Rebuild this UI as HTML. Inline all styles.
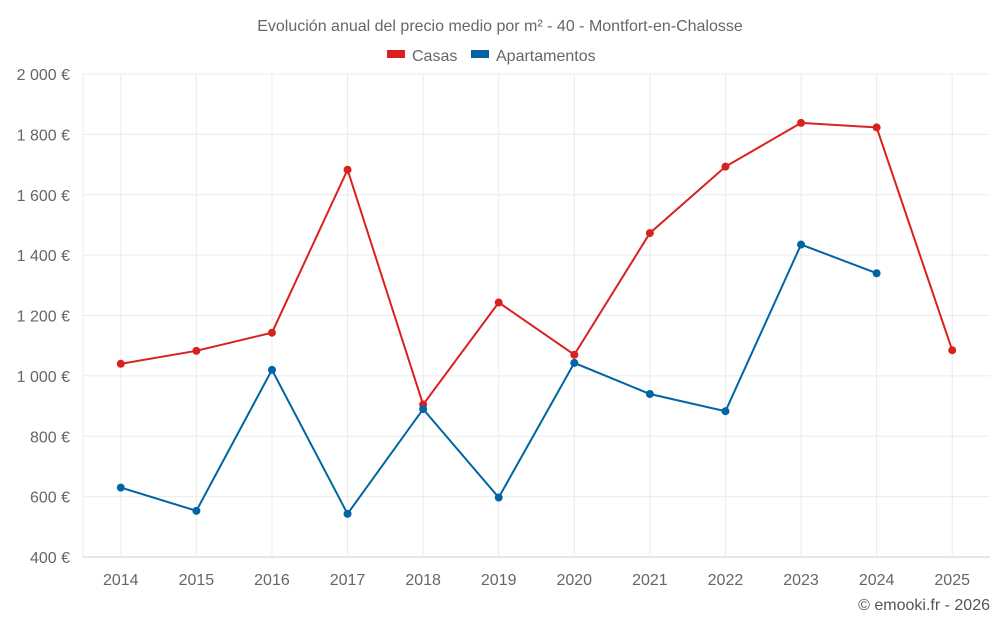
<!DOCTYPE html>
<html><head><meta charset="utf-8">
<style>
html,body{margin:0;padding:0;background:#fff;}
svg{display:block;font-family:"Liberation Sans",Roboto,sans-serif;}
</style></head>
<body>
<svg id="chart" width="1000" height="625" viewBox="0 0 1000 625">
<text x="500" y="31" text-anchor="middle" font-size="16" fill="#666">Evolución anual del precio medio por m² - 40 - Montfort-en-Chalosse</text>
<g>
<g><rect x="387" y="50" width="18" height="8" fill="#d92120"/><text x="412" y="61" font-size="16" fill="#666">Casas</text></g>
<g><rect x="471" y="50" width="18" height="8" fill="#0065a3"/><text x="496" y="61" font-size="16" fill="#666">Apartamentos</text></g>
</g>
<g id="grid"></g>
<g id="axes"></g>
<g id="series"></g>
<text x="990" y="610" text-anchor="end" font-size="16" fill="#555">© emooki.fr - 2026</text>
</svg>
<script>
const years = [2014,2015,2016,2017,2018,2019,2020,2021,2022,2023,2024,2025];
const casas = [1040,1083,1143,1683,905,1243,1070,1473,1693,1838,1823,1085];
const apartamentos = [630,553,1020,543,890,597,1043,940,883,1435,1340,null];
const yTicks = [400,600,800,1000,1200,1400,1600,1800,2000];
const yTickLabels = ["400 €","600 €","800 €","1 000 €","1 200 €","1 400 €","1 600 €","1 800 €","2 000 €"];

const NS="http://www.w3.org/2000/svg";
const L=83,R=990,T=74,B=557;
const step=(R-L)/years.length;
function xs(i){return L+step*(i+0.5);}
function ys(v){return B-(v-400)/(2000-400)*(B-T);}
function mk(tag,attrs,parent){const e=document.createElementNS(NS,tag);for(const k in attrs)e.setAttribute(k,attrs[k]);parent.appendChild(e);return e;}
const grid=document.getElementById('grid'),axes=document.getElementById('axes'),series=document.getElementById('series');

yTicks.forEach((v,i)=>{
  const y=ys(v);
  const g=mk('line',{x1:L,x2:R,y1:y,y2:y,stroke:i===0?'#ccc':'#ebebeb','stroke-width':1},grid);
  
  
  const t=mk('text',{x:L-13,y:y+6,'text-anchor':'end','font-size':16,fill:'#666'},axes);
  t.textContent=yTickLabels[i];
  
  
});
const la=mk('line',{x1:L,x2:L,y1:T,y2:B,stroke:'#ebebeb','stroke-width':1},grid);


years.forEach((yr,i)=>{
  const g=mk('line',{x1:xs(i),x2:xs(i),y1:T,y2:B,stroke:'#ebebeb','stroke-width':1},grid);
  
  
  const t=mk('text',{x:xs(i),y:B+28,'text-anchor':'middle','font-size':16,fill:'#666'},axes);
  t.textContent=yr;
  
  
});
function draw(data,color,name){
  let d='';let pen=false;
  data.forEach((v,i)=>{if(v==null){pen=false;return;}d+=(pen?'L':'M')+xs(i)+' '+ys(v)+' ';pen=true;});
  const p=mk('path',{d:d,fill:'none',stroke:color,'stroke-width':2},series);
  
  
  data.forEach((v,i)=>{if(v==null)return;
    const c=mk('circle',{cx:xs(i),cy:ys(v),r:4,fill:color},series);
    
    
  });
}
draw(casas,'#d92120','casas');
draw(apartamentos,'#0065a3','apartamentos');
</script>
</body></html>
